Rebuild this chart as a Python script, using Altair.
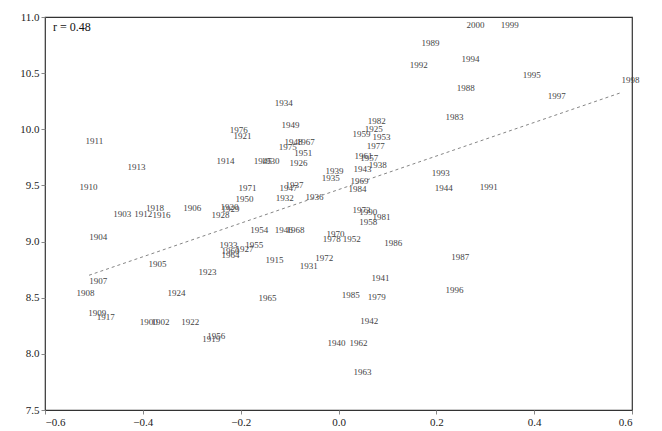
import pandas as pd
import altair as alt

years = [1911, 1913, 1910, 1903, 1912, 1918, 1916, 1906, 1920, 1929, 1904, 1907, 1908,
         1905, 1924, 1923, 1909, 1917, 1900, 1902, 1922, 1956, 1919, 1976, 1921, 1934,
         1949, 1948, 1967, 1975, 1951, 1914, 1945, 1930, 1926, 1971, 1937, 1947, 1950,
         1932, 1936, 1928, 1954, 1946, 1968, 1933, 1955, 1960, 1964, 1927, 1915, 1931,
         1972, 1970, 1978, 1952, 1965, 1985, 1979, 1941, 1942, 1940, 1962, 1963, 1982,
         1925, 1959, 1953, 1977, 1961, 1957, 1938, 1943, 1939, 1935, 1969, 1984, 1973,
         1990, 1981, 1958, 1986, 1987, 1996, 1983, 1993, 1944, 1991, 2000, 1999, 1989,
         1994, 1992, 1995, 1988, 1997, 1998]
xs = [-0.499, -0.413, -0.511, -0.442, -0.399, -0.375, -0.362, -0.299, -0.223, -0.221, -0.491, -0.491, -0.517,
      -0.370, -0.331, -0.268, -0.493, -0.476, -0.388, -0.364, -0.303, -0.250, -0.260, -0.204, -0.196, -0.112,
      -0.098, -0.092, -0.067, -0.104, -0.072, -0.231, -0.155, -0.139, -0.082, -0.186, -0.090, -0.102, -0.192,
      -0.110, -0.049, -0.241, -0.162, -0.112, -0.088, -0.225, -0.172, -0.221, -0.221, -0.192, -0.131, -0.061,
      -0.029, -0.006, -0.014, 0.027, -0.145, 0.025, 0.078, 0.086, 0.063, -0.004, 0.041, 0.049, 0.078,
      0.072, 0.047, 0.088, 0.076, 0.051, 0.063, 0.080, 0.049, -0.008, -0.016, 0.043, 0.039, 0.047,
      0.061, 0.088, 0.061, 0.112, 0.249, 0.237, 0.237, 0.209, 0.215, 0.307, 0.280, 0.350, 0.188,
      0.270, 0.164, 0.395, 0.260, 0.446, 0.597]
ys = [9.90, 9.66, 9.49, 9.25, 9.25, 9.30, 9.24, 9.30, 9.31, 9.29, 9.04, 8.65, 8.54,
      8.80, 8.54, 8.73, 8.36, 8.33, 8.28, 8.28, 8.28, 8.16, 8.13, 9.99, 9.94, 10.23,
      10.04, 9.89, 9.89, 9.84, 9.79, 9.72, 9.72, 9.72, 9.70, 9.48, 9.50, 9.48, 9.38,
      9.39, 9.40, 9.24, 9.10, 9.10, 9.10, 8.97, 8.97, 8.92, 8.88, 8.93, 8.84, 8.78,
      8.85, 9.07, 9.02, 9.02, 8.50, 8.52, 8.51, 8.68, 8.29, 8.10, 8.10, 7.84, 10.07,
      10.00, 9.96, 9.93, 9.85, 9.76, 9.74, 9.68, 9.65, 9.63, 9.57, 9.54, 9.47, 9.28,
      9.26, 9.22, 9.17, 8.99, 8.86, 8.57, 10.11, 9.61, 9.48, 9.49, 10.93, 10.93, 10.77,
      10.63, 10.57, 10.48, 10.37, 10.30, 10.44]

fit_x = [-0.51, 0.58]
fit_y = [8.70, 10.33]

df = pd.DataFrame({"year": years, "x": xs, "y": ys})
fit = pd.DataFrame({"x": fit_x, "y": fit_y})

xsc = alt.Scale(domain=[-0.6, 0.6], nice=False)
ysc = alt.Scale(domain=[7.5, 11.0], nice=False)
xax = alt.Axis(values=[-0.6, -0.4, -0.2, 0, 0.2, 0.4, 0.6], format=".1f", title=None, grid=False,
               tickSize=4, labelFontSize=11, labelColor="#222", domain=False, labelFont="Liberation Serif")
yax = alt.Axis(values=[7.5, 8, 8.5, 9, 9.5, 10, 10.5, 11], format=".1f", title=None, grid=False,
               tickSize=4, labelFontSize=11, labelColor="#222", domain=False, labelFont="Liberation Serif")

labels = alt.Chart(df).mark_text(font="Liberation Serif", fontSize=9, color="#444").encode(
    x=alt.X("x:Q", scale=xsc, axis=xax),
    y=alt.Y("y:Q", scale=ysc, axis=yax),
    text="year:N",
)

line = alt.Chart(fit).mark_line(strokeDash=[3, 3], color="#666", strokeWidth=0.8).encode(
    x=alt.X("x:Q", scale=xsc),
    y=alt.Y("y:Q", scale=ysc),
)

rtext = alt.Chart(pd.DataFrame({"t": ["r = 0.48"]})).mark_text(
    font="Liberation Serif", fontSize=12, color="#111", align="left"
).encode(x=alt.value(8), y=alt.value(10), text="t:N")

chart = (line + labels + rtext).properties(
    width=587, height=393, autosize="none",
    padding={"left": 37, "top": 9, "right": 14, "bottom": 20}
).configure_view(stroke="#333", strokeWidth=1.2)

chart.save("out.html", embed_options={"renderer": "svg", "actions": False})
